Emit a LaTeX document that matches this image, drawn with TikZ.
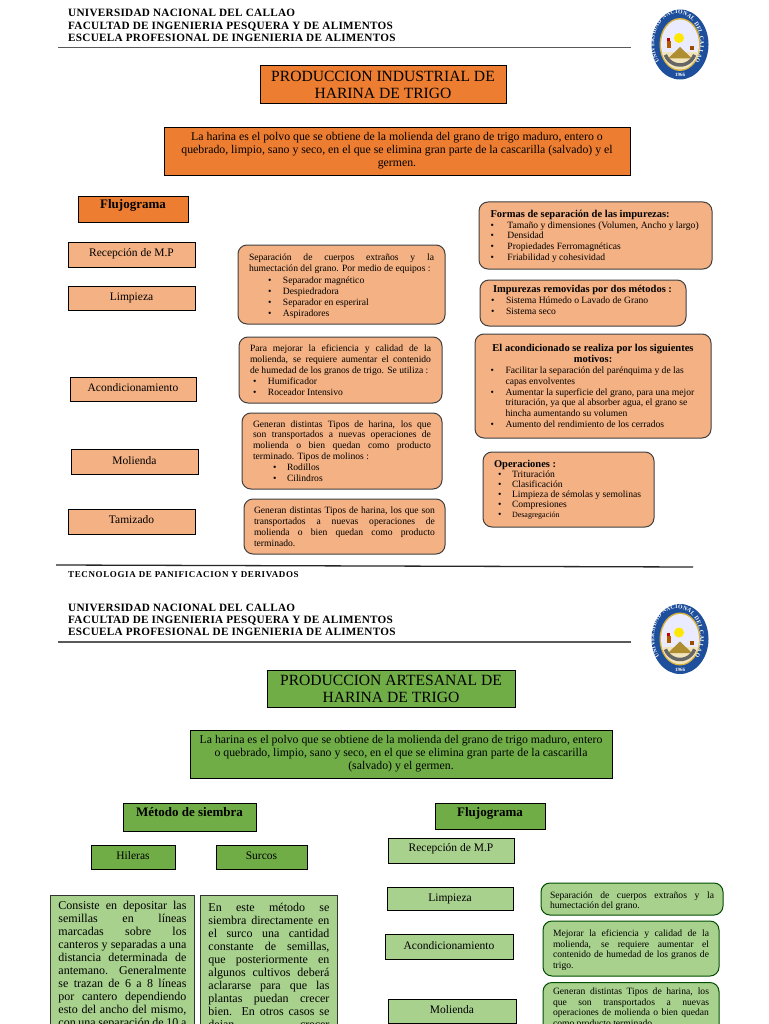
\documentclass[tikz,border=0pt]{standalone}
\usepackage{fontspec}
\setmainfont{Liberation Serif}
\newfontfamily\encabfont[LetterSpace=2.5]{Liberation Serif}
\newfontfamily\piefont[LetterSpace=7]{Liberation Serif}
\usetikzlibrary{decorations.text}

\definecolor{naranja}{HTML}{ED7D31}
\definecolor{naranjaclaro}{HTML}{F4B183}
\definecolor{verde}{HTML}{70AD47}
\definecolor{verdeclaro}{HTML}{A9D18E}
\definecolor{azulsello}{HTML}{1E4F9C}
\definecolor{orosello}{HTML}{D9B23C}

% single-line label, raised inside its box
\newcommand\subir[2]{\raisebox{#1}[0pt][0pt]{#2}}
% taller first line, pushes a text block down
\newcommand\baja[1]{\rule{0pt}{#1pt}}
% justified line, list item, bold heading of a note
\newcommand\jus[1]{\makebox[\hsize][s]{#1}}
\newcommand\punto[3]{\hspace*{#1pt}\makebox[#2pt][l]{\textbullet}#3}
\newcommand\negrita[1]{{\bfseries\fontsize{10.5}{10.9}\selectfont #1}}

\tikzset{
  caja/.style={draw=black,line width=0.9pt,inner sep=0pt,align=center},
  titulo/.style={caja,font=\fontsize{15.6}{17}\selectfont},
  intro/.style={caja,font=\fontsize{11.8}{13}\selectfont},
  etapa/.style={caja,font=\fontsize{11.5}{13}\selectfont},
  jefe/.style={caja,font=\bfseries\fontsize{13}{14}\selectfont},
  nota/.style={draw=black!75,line width=1pt,rounded corners=9pt,inner sep=0pt,
    inner ysep=3pt,align=justify,font=\fontsize{9.6}{10.9}\selectfont},
  parrafo/.style={draw=black!80,line width=0.9pt,fill=verdeclaro,anchor=north west,
    inner ysep=6pt,align=justify,font=\fontsize{12}{13}\selectfont},
  encab/.style={anchor=west,align=left,inner sep=0pt,
    font=\encabfont\bfseries\fontsize{11.2}{12.2}\selectfont},
  regla/.style={draw=black!65,line width=1.3pt},
  sello/.pic={
    \begin{scope}[x=1pt,y=1pt]
      \fill[azulsello] (0,0) ellipse (28.5 and 35);
      \fill[orosello] (0,0) ellipse (20.5 and 26.5);
      \fill[blue!8] (0,0) ellipse (19 and 25);
      \begin{scope}
        \clip (0,0) ellipse (19 and 25);
        \fill[orosello!35] (-19,-25) rectangle (19,-8);
        \fill[orosello!80!black] (-12,-14) -- (0,-2.5) -- (12,-14) -- cycle;
        \draw[black!60,line width=3.5pt] (0,-5) ++(200:15.5) arc[start angle=200,end angle=340,radius=15.5];
        \fill[orange!70!black] (-13,-4) rectangle (-9,3);
        \fill[red!75!black] (-13,3) rectangle (-10.5,6);
        \fill[orange!60!black] (10,-6) rectangle (14,-2);
      \end{scope}
      \fill[yellow!90!orange] (-1,6.5) circle (5);
      \path[decorate,decoration={text along path,text align={fit to path},
        text={|\fontsize{5.8}{6}\bfseries\color{white}|UNIVERSIDAD NACIONAL DEL CALLAO}}]
        (-20.5,-17) arc[start angle=220,end angle=-40,x radius=23,y radius=29];
      \node[text=white,inner sep=0pt,font=\bfseries\fontsize{5}{5}\selectfont] (anio) at (0,-30.5) {1966};
    \end{scope}
  }
}

\begin{document}
\begin{tikzpicture}[x=1pt,y=-1pt]
  \useasboundingbox (0,0) rectangle (768,1024);
  \clip (0,0) rectangle (768,1024);
  \fill[white] (0,0) rectangle (768,1024);

  % First sheet: industrial production.
  \node[encab] (cabA) at (68,25.5) {UNIVERSIDAD NACIONAL DEL CALLAO\\
    FACULTAD DE INGENIERIA PESQUERA Y DE ALIMENTOS\\
    ESCUELA PROFESIONAL DE INGENIERIA DE ALIMENTOS};
  \coordinate (reglaAi) at (58,47.5);
  \coordinate (reglaAd) at (631,47.5);
  \draw[regla] (reglaAi) -- (reglaAd);
  \pic (selloA) at (680,44.5) {sello};

  \node[titulo,fill=naranja,minimum width=246pt,minimum height=38pt] (tituloA) at (383,84)
    {\baja{12.5}PRODUCCION INDUSTRIAL DE\\HARINA DE TRIGO};
  \node[intro,fill=naranja,minimum width=466pt,minimum height=48pt] (introA) at (397,151)
    {La harina es el polvo que se obtiene de la molienda del grano de trigo maduro, entero o\\
     quebrado, limpio, sano y seco, en el que se elimina gran parte de la cascarilla (salvado) y el\\
     germen.};

  % Flow steps.
  \node[jefe,fill=naranja,minimum width=110pt,minimum height=26pt] (flujoA) at (133,209)
    {\subir{0.5pt}{Flujograma}};
  \node[etapa,fill=naranjaclaro,minimum width=127pt,minimum height=25pt] (recepcionA) at (131.5,254.5)
    {\subir{-2pt}{Recepción de M.P}};
  \node[etapa,fill=naranjaclaro,minimum width=127pt,minimum height=24pt] (limpiezaA) at (131.5,298)
    {\subir{-2pt}{Limpieza}};
  \node[etapa,fill=naranjaclaro,minimum width=126pt,minimum height=24pt] (acondA) at (133,389)
    {\subir{-2.5pt}{Acondicionamiento}};
  \node[etapa,fill=naranjaclaro,minimum width=127pt,minimum height=25pt] (moliendaA) at (134.5,461.5)
    {\subir{-2.5pt}{Molienda}};
  \node[etapa,fill=naranjaclaro,minimum width=127pt,minimum height=25pt] (tamizadoA) at (131.5,521.5)
    {\subir{-1.5pt}{Tamizado}};

  % Notes beside the steps.
  \node[nota,fill=naranjaclaro,text width=185pt,inner xsep=11pt,minimum height=79pt] (notaLimpieza) at (341.5,284.5)
    {\baja{10}\jus{Separación de cuerpos extraños y la}\\
     humectación del grano. Por medio de equipos :\\[0.6pt]
     \punto{19}{15}{Separador magnético}\\
     \punto{19}{15}{Despiedradora}\\
     \punto{19}{15}{Separador en esperiral}\\
     \punto{19}{15}{Aspiradores}};
  \node[nota,fill=naranjaclaro,text width=181pt,inner xsep=11pt,minimum height=66pt] (notaAcond) at (340.5,370)
    {\jus{Para mejorar la eficiencia y calidad de la}\\
     \jus{molienda, se requiere aumentar el contenido}\\
     de humedad de los granos de trigo. Se utiliza :\\
     \punto{3}{15}{Humificador}\\
     \punto{3}{15}{Roceador Intensivo}};
  \node[nota,fill=naranjaclaro,text width=178pt,inner xsep=11pt,minimum height=76pt] (notaMolienda) at (342,451)
    {\jus{Generan distintas Tipos de harina, los que}\\
     \jus{son transportados a nuevas operaciones de}\\
     \jus{molienda o bien quedan como producto}\\
     terminado. Tipos de molinos :\\
     \punto{20}{14}{Rodillos}\\
     \punto{20}{14}{Cilindros}};
  \node[nota,fill=naranjaclaro,text width=181pt,inner xsep=10pt,minimum height=55pt] (notaTamizado) at (344.5,526.5)
    {\jus{Generan distintas Tipos de harina, los que son}\\
     \jus{transportados a nuevas operaciones de}\\
     \jus{molienda o bien quedan como producto}\\
     terminado.};

  \node[nota,fill=naranjaclaro,text width=220pt,inner xsep=6.5pt,minimum height=67pt] (notaFormas) at (595.5,235.5)
    {\baja{9}\hspace*{5pt}\negrita{Formas de separación de las impurezas:}\\
     \punto{5}{17}{Tamaño y dimensiones (Volumen, Ancho y largo)}\\
     \punto{5}{17}{Densidad}\\
     \punto{5}{17}{Propiedades Ferromagnéticas}\\
     \punto{5}{17}{Friabilidad y cohesividad}};
  \node[nota,fill=naranjaclaro,text width=194pt,inner xsep=6pt,minimum height=46pt] (notaMetodos) at (583,303)
    {\hspace*{7pt}\negrita{Impurezas removidas por dos métodos :}\\
     \punto{5}{15}{Sistema Húmedo o Lavado de Grano}\\
     \punto{5}{15}{Sistema seco\rule[-5.5pt]{0pt}{1pt}}};
  \node[nota,fill=naranjaclaro,text width=223pt,inner xsep=6.5pt,minimum height=104pt] (notaMotivos) at (593,386)
    {\centering\negrita{El acondicionado se realiza por los siguientes}\\
     \negrita{motivos:}\par\raggedright
     \punto{9}{15}{Facilitar la separación del parénquima y de las}\\
     \hspace*{24pt}capas envolventes\\
     \punto{9}{15}{Aumentar la superficie del grano, para una mejor}\\
     \hspace*{24pt}trituración, ya que al absorber agua, el grano se\\
     \hspace*{24pt}hincha aumentando su volumen\\
     \punto{9}{15}{Aumento del rendimiento de los cerrados}};
  \node[nota,fill=naranjaclaro,text width=159pt,inner xsep=6pt,minimum height=75pt,
        font=\fontsize{9.6}{10}\selectfont] (notaOperaciones) at (568.5,489.5)
    {\hspace*{5pt}\negrita{Operaciones :}\\
     \punto{9}{14}{Trituración}\\
     \punto{9}{14}{Clasificación}\\
     \punto{9}{14}{Limpieza de sémolas y semolinas}\\
     \punto{9}{14}{Compresiones}\\
     \punto{9}{14}{\fontsize{8}{10}\selectfont Desagregación}};

  \coordinate (reglaPi) at (56,565);
  \coordinate (reglaPd) at (693,567);
  \draw[regla,black!85] (reglaPi) -- (reglaPd);
  \node[encab,font=\piefont\bfseries\fontsize{9}{10}\selectfont] (pieA) at (68,574.5)
    {TECNOLOGIA DE PANIFICACION Y DERIVADOS};

  % Second sheet: artisanal production.
  \node[encab] (cabB) at (68,620) {UNIVERSIDAD NACIONAL DEL CALLAO\\
    FACULTAD DE INGENIERIA PESQUERA Y DE ALIMENTOS\\
    ESCUELA PROFESIONAL DE INGENIERIA DE ALIMENTOS};
  \coordinate (reglaBi) at (58,642);
  \coordinate (reglaBd) at (631,642);
  \draw[regla] (reglaBi) -- (reglaBd);
  \pic (selloB) at (680,639) {sello};

  \node[titulo,fill=verde,minimum width=248pt,minimum height=37pt] (tituloB) at (391,688.5)
    {PRODUCCION ARTESANAL DE\\HARINA DE TRIGO};
  \node[intro,fill=verde,minimum width=422pt,minimum height=48pt] (introB) at (401,754)
    {La harina es el polvo que se obtiene de la molienda del grano de trigo maduro, entero\\
     o quebrado, limpio, sano y seco, en el que se elimina gran parte de la cascarilla\\
     (salvado) y el germen.};

  % Sowing method.
  \node[jefe,fill=verde,minimum width=133pt,minimum height=28pt] (metodo) at (189.5,817)
    {\subir{1pt}{Método de siembra}};
  \node[etapa,fill=verde,minimum width=84pt,minimum height=24pt] (hileras) at (133,857)
    {\subir{-2pt}{Hileras}};
  \node[etapa,fill=verde,minimum width=91pt,minimum height=24pt] (surcos) at (261.5,857)
    {\subir{-2pt}{Surcos}};
  \node[parrafo,text width=128pt,inner xsep=8pt] (parrafoHileras) at (50,895)
    {\jus{Consiste en depositar las}\\
     \jus{semillas en líneas}\\
     \jus{marcadas sobre los}\\
     \jus{canteros y separadas a una}\\
     \jus{distancia determinada de}\\
     \jus{antemano. Generalmente}\\
     \jus{se trazan de 6 a 8 líneas}\\
     \jus{por cantero dependiendo}\\
     \jus{esto del ancho del mismo,}\\
     \jus{con una separación de 10 a}};
  \node[parrafo,text width=121pt,inner xsep=8pt,inner ysep=8pt] (parrafoSurcos) at (200,895)
    {\jus{En este método se}\\
     \jus{siembra directamente en}\\
     \jus{el surco una cantidad}\\
     \jus{constante de semillas,}\\
     \jus{que posteriormente en}\\
     \jus{algunos cultivos deberá}\\
     \jus{aclararse para que las}\\
     \jus{plantas puedan crecer}\\
     \jus{bien. En otros casos se}\\
     \jus{dejan crecer}};

  % Flow steps.
  \node[jefe,fill=verde,minimum width=110pt,minimum height=26pt] (flujoB) at (490,816)
    {\subir{0pt}{Flujograma}};
  \node[etapa,fill=verdeclaro,minimum width=126pt,minimum height=25pt] (recepcionB) at (451,850.5)
    {\subir{-0.5pt}{Recepción de M.P}};
  \node[etapa,fill=verdeclaro,minimum width=126pt,minimum height=23pt] (limpiezaB) at (450,898.5)
    {\subir{-2.5pt}{Limpieza}};
  \node[etapa,fill=verdeclaro,minimum width=128pt,minimum height=25pt] (acondB) at (449,946.5)
    {\subir{-2.5pt}{Acondicionamiento}};
  \node[etapa,fill=verdeclaro,minimum width=128pt,minimum height=24pt] (moliendaB) at (452,1011)
    {\subir{-2.5pt}{Molienda}};

  \node[nota,draw=black!70!green,fill=verdeclaro,text width=164pt,inner xsep=9pt,minimum height=32pt] (notaLimpiezaB) at (632,899)
    {\baja{11}\jus{Separación de cuerpos extraños y la}\\
     humectación del grano.};
  \node[nota,draw=black!70!green,fill=verdeclaro,text width=156pt,inner xsep=10pt,minimum height=55pt] (notaAcondB) at (631,948.5)
    {\baja{10}\jus{Mejorar la eficiencia y calidad de la}\\
     \jus{molienda, se requiere aumentar el}\\
     \jus{contenido de humedad de los granos de}\\
     trigo.};
  \node[nota,draw=black!70!green,fill=verdeclaro,text width=156pt,inner xsep=10pt,anchor=north,inner ysep=5pt] (notaMoliendaB) at (631,982)
    {\jus{Generan distintas Tipos de harina, los}\\
     \jus{que son transportados a nuevas}\\
     \jus{operaciones de molienda o bien quedan}\\
     como producto terminado.};
\end{tikzpicture}
\end{document}
